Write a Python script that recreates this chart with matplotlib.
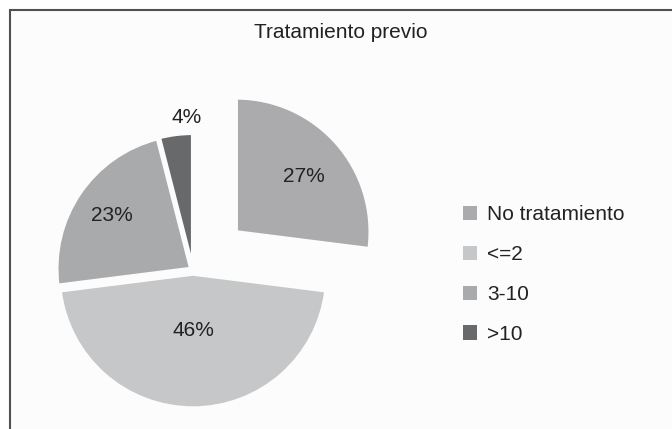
import numpy as np
import matplotlib
matplotlib.use('Agg')
from matplotlib import pyplot as plt
from matplotlib.patches import Rectangle, Patch

plt.rcParams['font.family'] = ['Liberation Sans', 'DejaVu Sans']

title = 'Tratamiento previo'
labels = ['No tratamiento', '<=2', '3-10', '>10']
values = [27, 46, 23, 4]

colors = ['#ababad', '#c6c7c9', '#a9aaac', '#68696b']
explode = [0.43, 0.03, 0.02, 0.02]
label_dist = [0.66, 0.42, 0.71, 1.16]
# small nudges (points) for labels, like the Excel placement
label_nudge = [(1, -2), (0, 0), (0, 0), (10, -3)]

W, H = 672, 429
fig = plt.figure(figsize=(W / 100, H / 100), dpi=100, facecolor='white')

# frame of the chart area (only top and left edges fall inside the picture)
fig.patches.append(Rectangle((10 / W, -0.05), 1.1, 1 - 10 / H + 0.05,
                             transform=fig.transFigure, facecolor='#fcfcfc',
                             edgecolor='#505050', linewidth=1.5, zorder=-5))

R = 134.0
cx, cy = 193.0, H - 270.0
xl, yl = (-1.4, 1.4), (-1.15, 1.6)
ax = fig.add_axes([(cx + xl[0] * R) / W, (cy + yl[0] * R) / H,
                   (xl[1] - xl[0]) * R / W, (yl[1] - yl[0]) * R / H])
ax.set_facecolor('none')

wedges, texts = ax.pie(values, colors=colors, explode=explode, startangle=90,
                       counterclock=False,
                       wedgeprops=dict(edgecolor='#fcfcfc', linewidth=2.5))
ax.set_xlim(*xl)
ax.set_ylim(*yl)

total = sum(values)
for w, v, d, nd in zip(wedges, values, label_dist, label_nudge):
    ang = np.deg2rad((w.theta1 + w.theta2) / 2)
    x = w.center[0] + d * np.cos(ang)
    y = w.center[1] + d * np.sin(ang)
    ax.annotate('%d%%' % round(100 * v / total), (x, y), xytext=nd,
                textcoords='offset points', ha='center', va='center',
                fontsize=15, color='#222222')

fig.text(341 / W, 1 - 33 / H, title, ha='center', va='center',
         fontsize=15, color='#222222')

handles = [Patch(facecolor=c, edgecolor='none') for c in colors]
fig.legend(handles, labels, loc='center left',
           bbox_to_anchor=(463 / W, 1 - 274.5 / H), frameon=False,
           fontsize=15, handlelength=0.67, handleheight=0.67,
           handletextpad=0.5, labelspacing=1.0, borderpad=0,
           borderaxespad=0, labelcolor='#222222')

fig.savefig('out.png', dpi=100, facecolor='white')
